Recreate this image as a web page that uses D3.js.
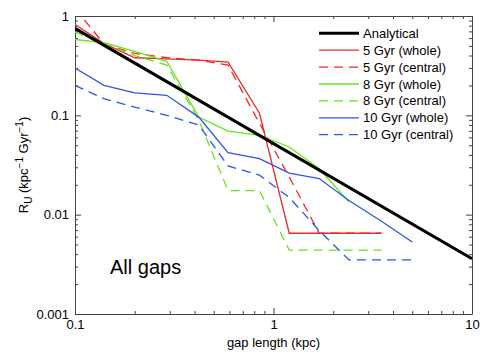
<!DOCTYPE html>
<meta charset="utf-8">
<style>
body { margin: 0; background: #fff; }
text { font-family: "Liberation Sans", Arial, sans-serif; fill: #000; }
.axis path { stroke: #444; }
.axis line { stroke: #444; }
.axis text { font-size: 13px; font-family: "Liberation Sans", Arial, sans-serif; fill: #000; }
</style>
<svg width="485" height="354"></svg>
<script src="https://d3js.org/d3.v7.min.js"></script>
<script>

// gap length bins (kpc)
var gapLen = [0.1, 0.14, 0.2, 0.29, 0.42, 0.59, 0.85, 1.2, 1.7, 2.4, 3.5, 5];

var analyticalX = [0.1, 10];
var analyticalY = [0.75, 0.0036];

var red5Whole   = [0.82, 0.53, 0.38, 0.37, 0.36, 0.344, 0.105, 0.0065, 0.0065, 0.0065, 0.0065];
var red5Central = [1.2, 0.52, 0.42, 0.38, 0.36, 0.32, 0.083, 0.024, 0.0065, 0.0065, 0.0065];
var grn8Whole   = [0.58, 0.54, 0.44, 0.35, 0.096, 0.0695, 0.063, 0.048, 0.029, 0.0134];
var grn8Central = [0.69, 0.53, 0.40, 0.32, 0.09, 0.0175, 0.0175, 0.0044, 0.0044, 0.0044, 0.0044];
var blu10Whole   = [0.30, 0.20, 0.168, 0.159, 0.096, 0.042, 0.0366, 0.0262, 0.0231, 0.0139, 0.0086, 0.0053];
var blu10Central = [0.20, 0.147, 0.121, 0.10, 0.08, 0.031, 0.025, 0.0149, 0.0069, 0.0035, 0.0035, 0.0035];

var xTickLabels = ["0.1", "1", "10"];
var yTickLabels = ["0.001", "0.01", "0.1", "1"];

var legendNames = ["Analytical", "5 Gyr (whole)", "5 Gyr (central)", "8 Gyr (whole)",
                   "8 Gyr (central)", "10 Gyr (whole)", "10 Gyr (central)"];

var red = "#f52727", green = "#66e61a", blue = "#2d55f0";

var svg = d3.select("svg");
var pLeft = 75, pRight = 472, pTop = 16, pBottom = 314;

var x = d3.scaleLog().domain([0.1, 10]).range([pLeft, pRight]);
var y = d3.scaleLog().domain([0.001, 1]).range([pBottom, pTop]);

function logTicks(lo, hi) {
  var out = [];
  for (var e = lo; e < hi; e++)
    for (var m = 1; m < 10; m++) out.push(m * Math.pow(10, e));
  out.push(Math.pow(10, hi));
  return out;
}
function isMajor(v) {
  var l = Math.log10(v);
  return Math.abs(l - Math.round(l)) < 1e-9;
}
var xTicks = logTicks(-1, 1), yTicks = logTicks(-3, 0);
function fmt(labels, lo) {
  return function(d) { return isMajor(d) ? labels[Math.round(Math.log10(d)) - lo] : ""; };
}

function styleAxis(g, vertical, sign) {
  g.selectAll(".tick line").each(function(d) {
    var len = isMajor(d) ? 6 : 3;
    d3.select(this).attr(vertical ? "x2" : "y2", sign * len);
  });
}

svg.append("g").attr("class", "axis")
  .attr("transform", "translate(0," + pBottom + ")")
  .call(d3.axisBottom(x).tickValues(xTicks).tickFormat(fmt(xTickLabels, -1)).tickSizeInner(-6).tickSizeOuter(0).tickPadding(6))
  .call(function(g) { styleAxis(g, false, -1); });

svg.append("g").attr("class", "axis")
  .attr("transform", "translate(0," + pTop + ")")
  .call(d3.axisTop(x).tickValues(xTicks).tickFormat("").tickSizeInner(-6).tickSizeOuter(0))
  .call(function(g) { styleAxis(g, false, 1); });

svg.append("g").attr("class", "axis")
  .attr("transform", "translate(" + pLeft + ",0)")
  .call(d3.axisLeft(y).tickValues(yTicks).tickFormat(fmt(yTickLabels, -3)).tickSizeInner(-6).tickSizeOuter(0).tickPadding(6))
  .call(function(g) { styleAxis(g, true, 1); });

svg.append("g").attr("class", "axis")
  .attr("transform", "translate(" + pRight + ",0)")
  .call(d3.axisRight(y).tickValues(yTicks).tickFormat("").tickSizeInner(-6).tickSizeOuter(0))
  .call(function(g) { styleAxis(g, true, -1); });

svg.append("clipPath").attr("id", "plot")
  .append("rect").attr("x", pLeft).attr("y", pTop).attr("width", pRight - pLeft).attr("height", pBottom - pTop);

var line = d3.line().x(function(d) { return x(d[0]); }).y(function(d) { return y(d[1]); });

function pairs(xs, ys) { return ys.map(function(v, i) { return [xs[i], v]; }); }

var series = [
  { data: pairs(analyticalX, analyticalY), color: "#000", width: 3, dash: null },
  { data: pairs(gapLen, red5Whole), color: red, width: 1.3, dash: null },
  { data: pairs(gapLen, red5Central), color: red, width: 1.3, dash: "9,6" },
  { data: pairs(gapLen, grn8Whole), color: green, width: 1.3, dash: null },
  { data: pairs(gapLen, grn8Central), color: green, width: 1.3, dash: "9,6" },
  { data: pairs(gapLen, blu10Whole), color: blue, width: 1.3, dash: null },
  { data: pairs(gapLen, blu10Central), color: blue, width: 1.3, dash: "9,6" }
];

var plot = svg.append("g").attr("clip-path", "url(#plot)");
// coloured series first, analytical drawn on top
[1, 2, 3, 4, 5, 6, 0].forEach(function(i) {
  var s = series[i];
  plot.append("path")
    .attr("d", line(s.data))
    .attr("fill", "none")
    .attr("stroke", s.color)
    .attr("stroke-width", s.width)
    .attr("stroke-dasharray", s.dash);
});

// legend
var leg = svg.append("g");
series.forEach(function(s, i) {
  var yy = 33.3 + i * 16.9;
  leg.append("line")
    .attr("x1", 319).attr("x2", 359).attr("y1", yy).attr("y2", yy)
    .attr("stroke", s.color).attr("stroke-width", s.width)
    .attr("stroke-dasharray", s.dash);
  leg.append("text")
    .attr("x", 363).attr("y", yy).attr("dy", "0.35em")
    .style("font-size", "13px")
    .text(legendNames[i]);
});

svg.append("text")
  .attr("x", 110).attr("y", 274)
  .style("font-size", "20px")
  .text("All gaps");

svg.append("text")
  .attr("x", (pLeft + pRight) / 2).attr("y", 347)
  .attr("text-anchor", "middle")
  .style("font-size", "13px")
  .text("gap length (kpc)");

var yl = svg.append("text")
  .attr("transform", "translate(28," + (pTop + pBottom) / 2 + ") rotate(-90)")
  .attr("text-anchor", "middle")
  .style("font-size", "13px");
yl.append("tspan").text("R");
yl.append("tspan").attr("dy", 4).style("font-size", "10px").text("U");
yl.append("tspan").attr("dy", -4).text(" (kpc");
yl.append("tspan").attr("dy", -5).style("font-size", "10px").text("\u22121");
yl.append("tspan").attr("dy", 5).text(" Gyr");
yl.append("tspan").attr("dy", -5).style("font-size", "10px").text("\u22121");
yl.append("tspan").attr("dy", 5).text(")");

</script>
